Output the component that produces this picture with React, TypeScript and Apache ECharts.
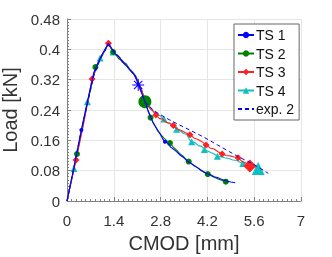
import React, { useEffect, useRef } from "react";
import * as echarts from "echarts";

// ---- data (CMOD [mm], Load [kN]) ----
const ts1X = [0, 0.2, 0.43, 0.6, 0.8, 1.0, 1.15, 1.24, 1.32, 1.42, 1.5, 1.58, 1.66, 1.74, 1.82, 1.9, 1.98, 2.05, 2.13, 2.2, 2.27, 2.35, 2.42, 2.5, 2.58, 2.65, 2.72, 2.8, 2.87, 2.93, 3.02, 3.1, 3.2, 3.3, 3.4, 3.5, 3.6, 3.7, 3.8, 3.9, 4.0, 4.1, 4.2, 4.3, 4.4, 4.5, 4.6, 4.7, 4.8, 4.9, 5.03];
const ts1Y = [0, 0.085, 0.187, 0.258, 0.338, 0.378, 0.402, 0.416, 0.405, 0.39, 0.384, 0.378, 0.366, 0.362, 0.352, 0.344, 0.336, 0.328, 0.306, 0.292, 0.276, 0.258, 0.24, 0.222, 0.206, 0.196, 0.184, 0.175, 0.163, 0.156, 0.152, 0.142, 0.136, 0.128, 0.12, 0.114, 0.105, 0.1, 0.093, 0.088, 0.081, 0.076, 0.071, 0.069, 0.064, 0.062, 0.058, 0.055, 0.052, 0.05, 0.048];
const ts1Marks = [2, 29];
const ts1Star = [18];

const ts2X = [0, 0.3, 0.55, 0.85, 1.05, 1.24, 1.38, 1.46, 1.55, 1.64, 1.72, 1.8, 1.88, 1.96, 2.04, 2.12, 2.2, 2.27, 2.33, 2.42, 2.5, 2.58, 2.66, 2.74, 2.82, 2.9, 3.0, 3.08, 3.18, 3.28, 3.38, 3.48, 3.56, 3.64, 3.74, 3.84, 3.94, 4.04, 4.12, 4.21, 4.32, 4.42, 4.52, 4.62, 4.75];
const ts2Y = [0, 0.124, 0.232, 0.353, 0.383, 0.414, 0.393, 0.386, 0.375, 0.37, 0.36, 0.355, 0.346, 0.338, 0.33, 0.316, 0.298, 0.28, 0.262, 0.238, 0.22, 0.206, 0.194, 0.184, 0.174, 0.166, 0.158, 0.153, 0.142, 0.134, 0.124, 0.118, 0.11, 0.104, 0.098, 0.092, 0.086, 0.08, 0.076, 0.071, 0.066, 0.062, 0.058, 0.055, 0.051];
const ts2Marks = [1, 3, 6, 20, 27, 33, 39, 44];
const ts2Big = [18];

const ts3X = [0, 0.27, 0.5, 0.75, 1.0, 1.24, 1.36, 1.45, 1.55, 1.65, 1.75, 1.85, 1.95, 2.05, 2.14, 2.22, 2.3, 2.38, 2.46, 2.56, 2.66, 2.76, 2.86, 2.96, 3.06, 3.18, 3.3, 3.42, 3.55, 3.68, 3.8, 3.92, 4.04, 4.16, 4.28, 4.4, 4.52, 4.64, 4.76, 4.88, 5.0, 5.12, 5.24, 5.36, 5.47];
const ts3Y = [0, 0.108, 0.205, 0.322, 0.378, 0.416, 0.398, 0.388, 0.38, 0.368, 0.362, 0.35, 0.34, 0.33, 0.312, 0.296, 0.275, 0.258, 0.246, 0.238, 0.227, 0.218, 0.216, 0.208, 0.205, 0.199, 0.19, 0.186, 0.18, 0.175, 0.166, 0.162, 0.156, 0.148, 0.14, 0.137, 0.13, 0.124, 0.12, 0.119, 0.116, 0.114, 0.104, 0.1, 0.092];
const ts3Marks = [1, 3, 5, 20, 25, 29, 33, 37, 41];
const ts3Big = [44];

const ts4X = [0, 0.21, 0.4, 0.61, 0.8, 0.99, 1.24, 1.38, 1.48, 1.58, 1.68, 1.78, 1.88, 1.98, 2.08, 2.16, 2.24, 2.32, 2.4, 2.5, 2.6, 2.7, 2.8, 2.9, 3.0, 3.1, 3.2, 3.28, 3.38, 3.48, 3.58, 3.65, 3.73, 3.83, 3.93, 4.03, 4.11, 4.2, 4.3, 4.4, 4.5, 4.6, 4.72, 4.84, 4.96, 5.08, 5.18, 5.26, 5.38, 5.5, 5.62, 5.72];
const ts4Y = [0, 0.086, 0.175, 0.262, 0.33, 0.377, 0.414, 0.393, 0.385, 0.378, 0.366, 0.362, 0.348, 0.34, 0.326, 0.31, 0.29, 0.268, 0.254, 0.246, 0.236, 0.228, 0.224, 0.216, 0.206, 0.204, 0.196, 0.189, 0.186, 0.178, 0.176, 0.164, 0.156, 0.154, 0.146, 0.144, 0.136, 0.132, 0.128, 0.124, 0.118, 0.117, 0.114, 0.112, 0.108, 0.107, 0.102, 0.099, 0.097, 0.093, 0.09, 0.086];
const ts4Marks = [1, 3, 5, 7, 23, 27, 32, 36, 40, 47];
const ts4Big = [51];

const exp2X = [0, 0.4, 0.8, 1.0, 1.24, 1.4, 1.6, 1.8, 2.0, 2.13, 2.33, 2.6, 2.98, 3.33, 3.7, 4.08, 4.5, 5.12, 5.6, 6.02];
const exp2Y = [0, 0.175, 0.33, 0.375, 0.412, 0.396, 0.376, 0.356, 0.334, 0.31, 0.262, 0.238, 0.218, 0.202, 0.186, 0.169, 0.148, 0.117, 0.096, 0.073];

const xTicks = [0, 1.4, 2.8, 4.2, 5.6, 7];
const yTicks = [0, 0.08, 0.16, 0.24, 0.32, 0.4, 0.48];

const FONT = "'Liberation Sans', Arial, sans-serif";
const STAR =
  "path://M-0.08,-1L0.08,-1L0.08,1L-0.08,1Z M-1,-0.08L1,-0.08L1,0.08L-1,0.08Z M-0.64,-0.76L0.76,0.64L0.64,0.76L-0.76,-0.64Z M0.64,-0.76L0.76,-0.64L-0.64,0.76L-0.76,0.64Z";

function buildData(xs: number[], ys: number[], marks: number[], big: number[], bigSize: number, bigSymbol?: string) {
  return xs.map((x, i) => {
    if (big.includes(i)) {
      const item: any = { value: [x, ys[i]], symbolSize: bigSize };
      if (bigSymbol) item.symbol = bigSymbol;
      return item;
    }
    if (marks.includes(i)) return { value: [x, ys[i]] };
    return { value: [x, ys[i]], symbol: "none" };
  });
}

export default function App() {
  const ref = useRef<HTMLDivElement>(null);
  useEffect(() => {
    if (!ref.current) return;
    const chart = echarts.init(ref.current, null, { renderer: "svg" });
    const fmt = (v: number) => String(parseFloat(v.toFixed(2)));
    const lineSeries = (name: string, color: string, data: any[], symbol: string, size: number, z: number, extra: any = {}) => ({
      name,
      type: "line",
      data,
      symbol,
      symbolSize: size,
      showSymbol: true,
      showAllSymbol: true,
      z,
      lineStyle: { color, width: 1.1 },
      itemStyle: { color },
      emphasis: { disabled: true },
      ...extra,
    });
    chart.setOption({
      animation: false,
      textStyle: { fontFamily: FONT },
      grid: { left: 67, right: 31, top: 19, bottom: 56, containLabel: false, outerBoundsMode: "none" },
      legend: {
        orient: "vertical",
        left: 234,
        top: 24,
        itemWidth: 16,
        itemHeight: 8,
        itemGap: 3.5,
        padding: [3.5, 5, 3.5, 3],
        backgroundColor: "#fff",
        borderColor: "#666",
        borderWidth: 1,
        borderRadius: 0,
        textStyle: { fontSize: 14, color: "#111", fontFamily: FONT, lineHeight: 15, padding: [0, 0, 0, -3] },
        data: ["TS 1", "TS 2", "TS 3", "TS 4", "exp. 2"],
      },
      xAxis: {
        type: "value",
        min: xTicks[0],
        max: xTicks[xTicks.length - 1],
        interval: xTicks[1] - xTicks[0],
        name: "CMOD [mm]",
        nameLocation: "middle",
        nameGap: 31,
        nameTextStyle: { fontSize: 20, color: "#333", fontFamily: FONT },
        axisLine: { show: true, onZero: false, lineStyle: { color: "#808080", width: 1 } },
        axisTick: { show: true, inside: true, length: 4, lineStyle: { color: "#808080" } },
        minorTick: { show: true, splitNumber: 10, length: 2, lineStyle: { color: "#808080" } },
        splitLine: { show: true, lineStyle: { color: "#e6e6e6", width: 1 } },
        axisLabel: { fontSize: 15, color: "#333", margin: 12, formatter: fmt, fontFamily: FONT },
      },
      yAxis: {
        type: "value",
        min: yTicks[0],
        max: yTicks[yTicks.length - 1],
        interval: 0.08,
        name: "Load [kN]",
        nameLocation: "middle",
        nameGap: 35,
        nameTextStyle: { fontSize: 20, color: "#333", fontFamily: FONT },
        axisLine: { show: true, onZero: false, lineStyle: { color: "#808080", width: 1 } },
        axisTick: { show: true, inside: true, length: 4, lineStyle: { color: "#808080" } },
        minorTick: { show: true, splitNumber: 10, length: 2, lineStyle: { color: "#808080" } },
        splitLine: { show: true, lineStyle: { color: "#e6e6e6", width: 1 } },
        axisLabel: { fontSize: 15, color: "#333", margin: 7, formatter: fmt, fontFamily: FONT },
      },
      series: [
        lineSeries("TS 1", "#0000ff", buildData(ts1X, ts1Y, ts1Marks, ts1Star, 12, STAR), "circle", 4, 4),
        lineSeries("TS 2", "#008000", buildData(ts2X, ts2Y, ts2Marks, ts2Big, 13), "circle", 6, 3),
        lineSeries("TS 3", "#ff2020", buildData(ts3X, ts3Y, ts3Marks, ts3Big, 13), "diamond", 7, 3),
        lineSeries("TS 4", "#10c0c0", buildData(ts4X, ts4Y, ts4Marks, ts4Big, 13), "triangle", 7, 2),
        {
          name: "exp. 2",
          type: "line",
          data: exp2X.map((x, i) => [x, exp2Y[i]]),
          symbol: "circle",
          symbolSize: 0,
          showSymbol: false,
          z: 5,
          lineStyle: { color: "#0000ff", width: 1, type: [4, 3] },
          itemStyle: { color: "rgba(0,0,0,0)" },
          emphasis: { disabled: true },
        },
      ],
    });
    return () => chart.dispose();
  }, []);
  return <div ref={ref} style={{ position: "fixed", left: 0, top: 0, width: 332, height: 257 }} />;
}
